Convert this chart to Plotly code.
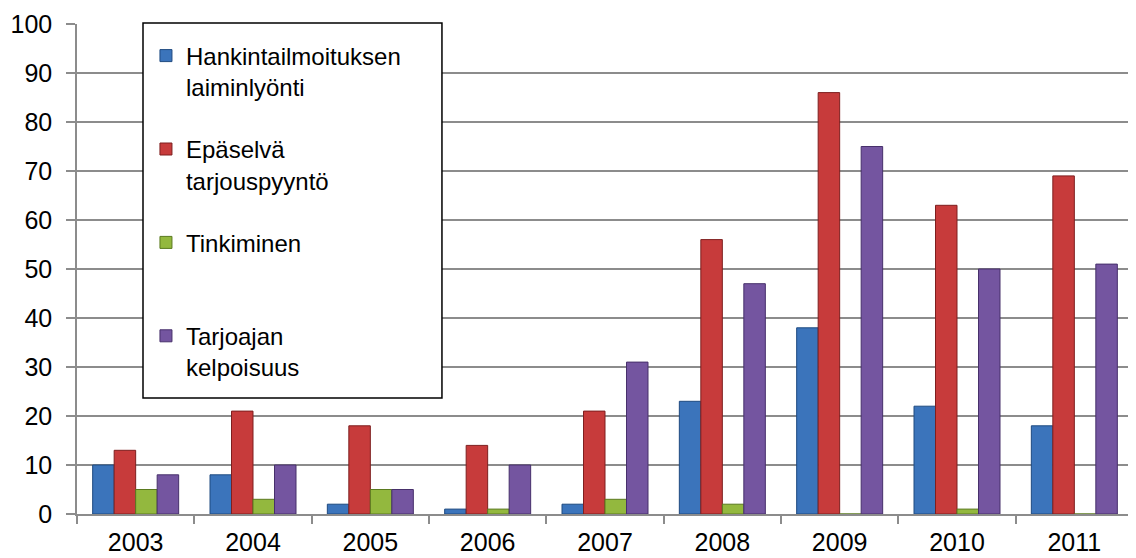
import plotly.graph_objects as go

years = ["2003", "2004", "2005", "2006", "2007", "2008", "2009", "2010", "2011"]

hankinta = [10, 8, 2, 1, 2, 23, 38, 22, 18]
epaselva = [13, 21, 18, 14, 21, 56, 86, 63, 69]
tinkiminen = [5, 3, 5, 1, 3, 2, 0, 1, 0]
kelpoisuus = [8, 10, 5, 10, 31, 47, 75, 50, 51]

series_names = [
    "Hankintailmoituksen<br>laiminlyönti",
    "Epäselvä<br>tarjouspyyntö",
    "Tinkiminen<br>\u00a0",
    "Tarjoajan<br>kelpoisuus",
]
series_values = [hankinta, epaselva, tinkiminen, kelpoisuus]
colors = ["#3b74bb", "#c73b3b", "#93b83e", "#7455a0"]
edges = ["#1f4a80", "#7e1f1f", "#5a7a1f", "#47306b"]

fig = go.Figure()
for i, (name, vals, c, e) in enumerate(zip(series_names, series_values, colors, edges)):
    fig.add_trace(
        go.Bar(
            x=years,
            y=vals,
            name=name,
            legendgroup=f"g{i}",  # one group each so tracegroupgap spaces them
            marker=dict(color=c, line=dict(color=e, width=1)),
        )
    )

# page body has an 8px margin, so the figure is a bit smaller than the window
fig.update_layout(
    width=1128,
    height=550,
    margin=dict(l=69, r=3, t=16, b=44),
    paper_bgcolor="white",
    plot_bgcolor="white",
    barmode="group",
    bargap=0.267,
    bargroupgap=0,
    font=dict(family="Liberation Sans, Arial, sans-serif", size=25, color="black"),
    showlegend=True,
    legend=dict(
        x=0.0653,
        y=0.9806,
        xanchor="left",
        yanchor="top",
        bgcolor="rgba(0,0,0,0)",
        borderwidth=0,
        font=dict(size=24),
        valign="top",
        tracegroupgap=28,
    ),
    shapes=[
        dict(
            type="rect",
            xref="paper",
            yref="paper",
            x0=0.0625,
            x1=0.3456,
            y0=0.2367,
            y1=1.002,
            fillcolor="white",
            line=dict(color="black", width=1.5),
            layer="above",
        )
    ],
    xaxis=dict(
        type="category",
        showline=True,
        linecolor="#8c8c8c",
        linewidth=1.5,
        ticks="outside",
        tickson="boundaries",
        ticklen=8,
        tickcolor="#8c8c8c",
        tickwidth=1.5,
        showgrid=False,
        ticklabelstandoff=5,
        automargin=False,
    ),
    yaxis=dict(
        range=[0, 100],
        dtick=10,
        showline=True,
        linecolor="#8c8c8c",
        linewidth=1.5,
        ticks="outside",
        ticklen=9,
        tickcolor="#8c8c8c",
        tickwidth=1.5,
        showgrid=True,
        gridcolor="#8c8c8c",
        gridwidth=1.5,
        zeroline=False,
        ticklabelstandoff=9,
        automargin=False,
    ),
)

fig.write_html("out.html")
